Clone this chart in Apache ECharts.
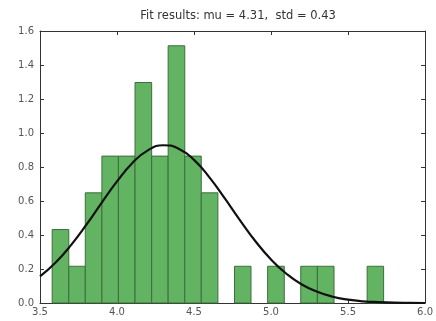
<!DOCTYPE html>
<html>
<head>
<meta charset="utf-8">
<script src="https://cdn.jsdelivr.net/npm/echarts@6/dist/echarts.min.js"></script>
<style>html,body{margin:0;padding:0;background:#fff}#c{width:436px;height:321px}</style>
</head>
<body>
<div id="c"></div>
<script>
// Histogram bin edges (21 edges, 20 bins)
var binEdges = [3.579, 3.687, 3.794, 3.902, 4.009, 4.117, 4.225, 4.332, 4.440, 4.547,
                4.655, 4.763, 4.870, 4.978, 5.086, 5.193, 5.301, 5.409, 5.516, 5.624, 5.731];
// Density of each bin
var densities = [0.432, 0.216, 0.648, 0.864, 0.864, 1.297, 0.864, 1.513, 0.864, 0.648,
                 0, 0.216, 0, 0.216, 0, 0.216, 0.216, 0, 0, 0.216];
// Fitted curve
var curveX = [3.5, 3.6, 3.7, 3.8, 3.9, 4.0, 4.1, 4.2, 4.3, 4.4, 4.5, 4.6, 4.7,
              4.8, 4.9, 5.0, 5.1, 5.2, 5.3, 5.4, 5.5, 5.6, 5.7, 5.8, 5.9, 6.0];
var curveY = [0.157, 0.237, 0.339, 0.459, 0.589, 0.715, 0.824, 0.898, 0.928, 0.908, 0.842, 0.739, 0.615,
              0.485, 0.362, 0.256, 0.172, 0.109, 0.066, 0.037, 0.020, 0.010, 0.005, 0.002, 0.001, 0.000];
var titleText = 'Fit results: mu = 4.31,  std = 0.43';
var xTicks = [3.5, 4.0, 4.5, 5.0, 5.5, 6.0];
var yTicks = [0.0, 0.2, 0.4, 0.6, 0.8, 1.0, 1.2, 1.4, 1.6];

var barData = densities.map(function (h, i) { return [binEdges[i], binEdges[i + 1], h]; });
var lineData = curveX.map(function (x, i) { return [x, curveY[i]]; });

var chart = echarts.init(document.getElementById('c'), null, {renderer: 'canvas'});
var font = 'DejaVu Sans';
var axisCommon = {
  axisLine: {show: true, onZero: false, lineStyle: {color: '#333', width: 1}},
  axisTick: {show: true, inside: true, length: 4, lineStyle: {color: '#333'}},
  splitLine: {show: false}
};
chart.setOption({
  animation: false,
  title: {
    text: titleText, left: 233, top: 5, textAlign: 'center',
    textStyle: {fontFamily: font, fontSize: 11.5, fontWeight: 'normal', color: '#333'}
  },
  grid: {left: 40, right: 9, top: 31, bottom: 18, show: false},
  xAxis: [
    Object.assign({type: 'value', min: 3.5, max: 6.0, interval: 0.5, position: 'bottom',
      axisLabel: {fontFamily: font, fontSize: 10, color: '#555', margin: 4,
        formatter: function (v) { return v.toFixed(1); }}}, axisCommon),
    Object.assign({type: 'value', min: 3.5, max: 6.0, interval: 0.5, position: 'top',
      axisLabel: {show: false}}, axisCommon)
  ],
  yAxis: [
    Object.assign({type: 'value', min: 0, max: 1.6, interval: 0.2, position: 'left',
      axisLabel: {fontFamily: font, fontSize: 10, color: '#555', margin: 6,
        formatter: function (v) { return v.toFixed(1); }}}, axisCommon),
    Object.assign({type: 'value', min: 0, max: 1.6, interval: 0.2, position: 'right',
      axisLabel: {show: false}}, axisCommon)
  ],
  series: [
    {
      type: 'custom',
      xAxisIndex: 0, yAxisIndex: 0,
      data: barData,
      renderItem: function (params, api) {
        var h = api.value(2);
        if (!h) return null;
        var p0 = api.coord([api.value(0), h]);
        var p1 = api.coord([api.value(1), 0]);
        return {
          type: 'rect',
          shape: {x: p0[0], y: p0[1], width: p1[0] - p0[0], height: p1[1] - p0[1]},
          style: {fill: '#62b462', stroke: '#3d6e3d', lineWidth: 1}
        };
      },
      z: 2
    },
    {
      type: 'line',
      xAxisIndex: 0, yAxisIndex: 0,
      data: lineData,
      smooth: true,
      showSymbol: false,
      lineStyle: {color: '#111', width: 2.2},
      z: 3
    }
  ]
});
</script>
</body>
</html>
